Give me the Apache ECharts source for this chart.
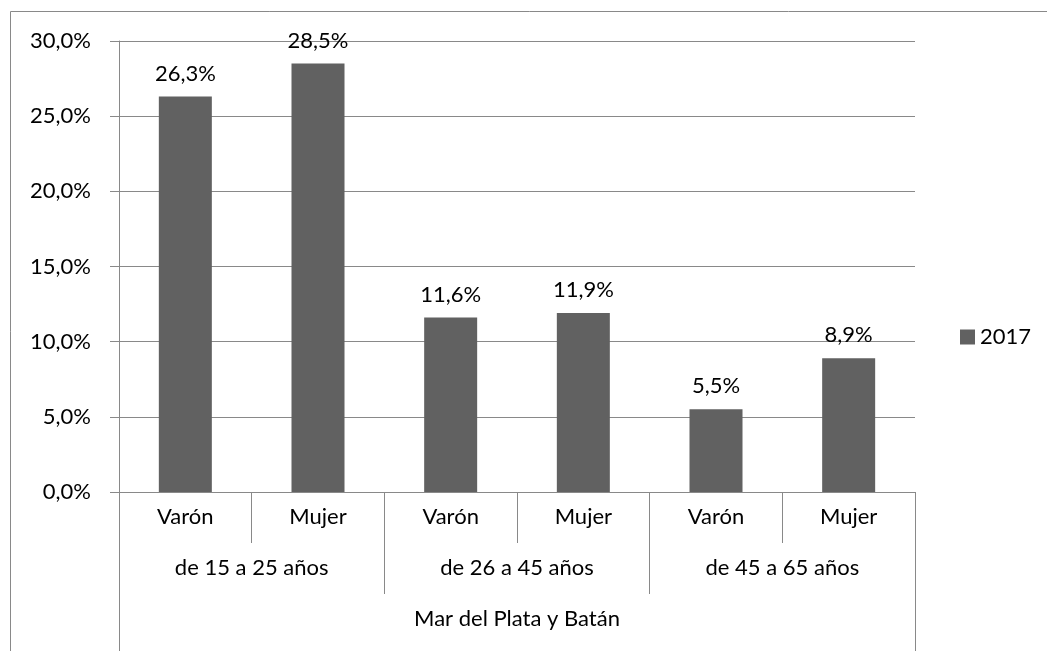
<!DOCTYPE html>
<html>
<head>
<meta charset="utf-8">
<script src="https://cdn.jsdelivr.net/npm/echarts@6/dist/echarts.min.js"></script>
<style>
html,body{margin:0;padding:0;background:#fff;}
#c{width:1047px;height:651px;}
</style>
</head>
<body>
<div id="c"></div>
<script>
const sexLabels = ['Varón', 'Mujer', 'Varón', 'Mujer', 'Varón', 'Mujer'];
const ageGroups = ['de 15 a 25 años', 'de 26 a 45 años', 'de 45 a 65 años'];
const region = ['Mar del Plata y Batán'];
const seriesName = '2017';
const values = [26.3, 28.5, 11.6, 11.9, 5.5, 8.9];
const yTicks = { min: 0, max: 30, interval: 5 };

const FONT = 'Lato, sans-serif';
const FS = 22;
const GRAY = '#898989';
const fmt = v => v.toFixed(1).replace('.', ',') + '%';

const chart = echarts.init(document.getElementById('c'), null, { renderer: 'canvas' });
const grid = { left: 119, right: 132, top: 41, bottom: 159 };
chart.setOption({
  animation: false,
  textStyle: { fontFamily: FONT },
  graphic: [{
    type: 'rect',
    shape: { x: 10.5, y: 11.5, width: 1040, height: 700 },
    style: { fill: 'none', stroke: GRAY, lineWidth: 1 },
    silent: true
  }],
  legend: {
    data: [seriesName],
    left: 955, top: 321,
    itemWidth: 15, itemHeight: 15, itemGap: 5,
    textStyle: { fontFamily: FONT, fontSize: FS, color: '#000' },
    icon: 'rect'
  },
  grid: grid,
  xAxis: [
    {
      type: 'category', data: sexLabels, position: 'bottom',
      axisLine: { lineStyle: { color: GRAY, width: 1 } },
      axisTick: { show: true, length: 51, lineStyle: { color: GRAY } },
      axisLabel: { fontFamily: FONT, fontSize: FS, color: '#000', margin: 25, verticalAlign: 'middle', interval: 0 },
      splitLine: { show: false }
    },
    {
      type: 'category', data: ageGroups, position: 'bottom', offset: 51,
      axisLine: { show: false },
      axisTick: { show: true, length: 51, lineStyle: { color: GRAY } },
      axisLabel: { fontFamily: FONT, fontSize: FS, color: '#000', margin: 25, verticalAlign: 'middle', interval: 0 },
      splitLine: { show: false }
    },
    {
      type: 'category', data: region, position: 'bottom', offset: 102,
      axisLine: { show: false },
      axisTick: { show: true, length: 60, lineStyle: { color: GRAY } },
      axisLabel: { fontFamily: FONT, fontSize: FS, color: '#000', margin: 25, verticalAlign: 'middle', interval: 0 },
      splitLine: { show: false }
    }
  ],
  yAxis: {
    type: 'value', min: yTicks.min, max: yTicks.max, interval: yTicks.interval,
    axisLine: { show: true, lineStyle: { color: GRAY } },
    axisTick: { show: true, length: 9, lineStyle: { color: GRAY } },
    axisLabel: { fontFamily: FONT, fontSize: FS, color: '#000', margin: 28, formatter: fmt },
    splitLine: { show: true, lineStyle: { color: GRAY, width: 1 } }
  },
  series: [{
    name: seriesName, type: 'bar', data: values, xAxisIndex: 0,
    barWidth: 53,
    itemStyle: { color: '#616161' },
    label: {
      show: true, position: 'top', distance: 12,
      fontFamily: FONT, fontSize: FS, color: '#000',
      formatter: p => fmt(p.value)
    }
  }]
});
</script>
</body>
</html>
